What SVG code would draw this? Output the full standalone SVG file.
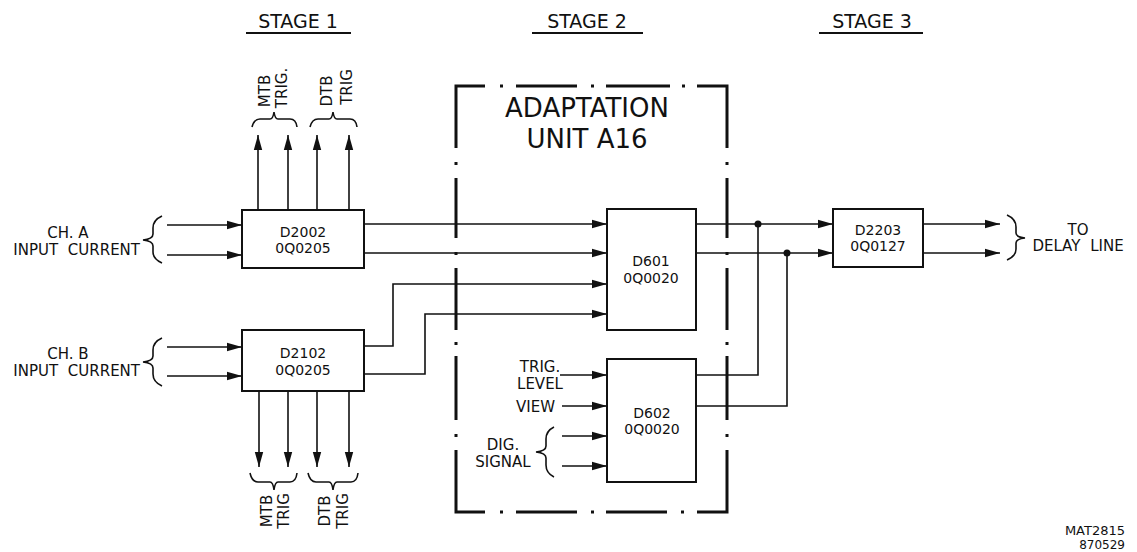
<svg xmlns="http://www.w3.org/2000/svg" width="1137" height="552" viewBox="0 0 1137 552">
<style>
text{font-family:"DejaVu Sans","Liberation Sans",sans-serif;fill:#111}
.st{font-size:19px}
.lb{font-size:15px}
.bx{font-size:14px;text-anchor:middle}
.big{font-size:26px;text-anchor:middle}
.box{fill:#fff;stroke:#111;stroke-width:2}
.ln{fill:none;stroke:#111;stroke-width:1.6}
.br{fill:none;stroke:#111;stroke-width:1.6}
.ul{stroke:#111;stroke-width:2.2}
.dd{stroke:#111;stroke-width:3;fill:none}
</style>
<defs>
<marker id="ah" markerUnits="userSpaceOnUse" markerWidth="16" markerHeight="10" refX="15" refY="5" orient="auto">
<path d="M0,0.8 L15,5 L0,9.2 Z" fill="#111"/>
</marker>
</defs>
<rect width="1137" height="552" fill="#fff"/>

<g id="stage-headers">
<text class="st" x="298" y="28" text-anchor="middle">STAGE 1</text>
<line class="ul" x1="246" y1="33" x2="351" y2="33"/>
<text class="st" x="587" y="28" text-anchor="middle">STAGE 2</text>
<line class="ul" x1="532" y1="33" x2="643" y2="33"/>
<text class="st" x="872" y="28" text-anchor="middle">STAGE 3</text>
<line class="ul" x1="819" y1="33" x2="923" y2="33"/>
</g>

<g id="adaptation-unit">
<path class="dd" d="M456,148 V86 H485 M500,86 h3 M516,86 H577 M591,86 h3 M606,86 H670 M682,86 h3 M697,86 H727 V148
M456,162 v3 M456,178 V238 M456,252 v3 M456,268 V330 M456,342 v3 M456,356 V420 M456,434 v3 M456,450 V512 H485
M727,162 v3 M727,178 V238 M727,252 v3 M727,268 V330 M727,342 v3 M727,356 V420 M727,434 v3 M727,450 V512 H697
M500,512 h3 M516,512 H577 M591,512 h3 M606,512 H667 M681,512 h3"/>
<text class="big" x="587" y="117">ADAPTATION</text>
<text class="big" x="587" y="148">UNIT A16</text>
</g>

<g id="connectors">
<line class="ln" x1="167" y1="225" x2="242" y2="225" marker-end="url(#ah)"/>
<line class="ln" x1="167" y1="255" x2="242" y2="255" marker-end="url(#ah)"/>
<line class="ln" x1="167" y1="347" x2="242" y2="347" marker-end="url(#ah)"/>
<line class="ln" x1="167" y1="376" x2="242" y2="376" marker-end="url(#ah)"/>
<line class="ln" x1="258" y1="210" x2="258" y2="135" marker-end="url(#ah)"/>
<line class="ln" x1="288" y1="210" x2="288" y2="135" marker-end="url(#ah)"/>
<line class="ln" x1="317" y1="210" x2="317" y2="135" marker-end="url(#ah)"/>
<line class="ln" x1="349" y1="210" x2="349" y2="135" marker-end="url(#ah)"/>
<line class="ln" x1="259" y1="391" x2="259" y2="467" marker-end="url(#ah)"/>
<line class="ln" x1="288" y1="391" x2="288" y2="467" marker-end="url(#ah)"/>
<line class="ln" x1="317" y1="391" x2="317" y2="467" marker-end="url(#ah)"/>
<line class="ln" x1="349" y1="391" x2="349" y2="467" marker-end="url(#ah)"/>
<line class="ln" x1="364" y1="224" x2="607" y2="224" marker-end="url(#ah)"/>
<line class="ln" x1="364" y1="253" x2="607" y2="253" marker-end="url(#ah)"/>
<polyline class="ln" points="364,346 393,346 393,284 607,284" marker-end="url(#ah)"/>
<polyline class="ln" points="364,374 425,374 425,314 607,314" marker-end="url(#ah)"/>
<line class="ln" x1="696" y1="224" x2="833" y2="224" marker-end="url(#ah)"/>
<line class="ln" x1="696" y1="253" x2="833" y2="253" marker-end="url(#ah)"/>
<polyline class="ln" points="696,375 758,375 758,224"/>
<polyline class="ln" points="696,406 787,406 787,253"/>
<circle cx="758" cy="224" r="3.5" fill="#111"/>
<circle cx="787" cy="253" r="3.5" fill="#111"/>
<line class="ln" x1="560" y1="375" x2="607" y2="375" marker-end="url(#ah)"/>
<line class="ln" x1="562" y1="406" x2="607" y2="406" marker-end="url(#ah)"/>
<line class="ln" x1="562" y1="436" x2="607" y2="436" marker-end="url(#ah)"/>
<line class="ln" x1="562" y1="466" x2="607" y2="466" marker-end="url(#ah)"/>
<line class="ln" x1="923" y1="224" x2="1000" y2="224" marker-end="url(#ah)"/>
<line class="ln" x1="923" y1="253" x2="1000" y2="253" marker-end="url(#ah)"/>
</g>

<g id="D2002">
<rect class="box" x="242" y="210" width="122" height="58"/>
<text class="bx" x="303" y="237">D2002</text>
<text class="bx" x="303" y="253">0Q0205</text>
</g>
<g id="D2102">
<rect class="box" x="242" y="330" width="122" height="61"/>
<text class="bx" x="303" y="358">D2102</text>
<text class="bx" x="303" y="375">0Q0205</text>
</g>
<g id="D601">
<rect class="box" x="607" y="209" width="89" height="121"/>
<text class="bx" x="651" y="266">D601</text>
<text class="bx" x="651" y="283">0Q0020</text>
</g>
<g id="D602">
<rect class="box" x="607" y="359" width="89" height="123"/>
<text class="bx" x="652" y="418">D602</text>
<text class="bx" x="652" y="434">0Q0020</text>
</g>
<g id="D2203">
<rect class="box" x="833" y="209" width="90" height="58"/>
<text class="bx" x="878" y="235">D2203</text>
<text class="bx" x="878" y="251">0Q0127</text>
</g>

<g id="ch-a-input">
<text class="lb" x="68" y="238" text-anchor="middle">CH. A</text>
<text class="lb" x="140" y="255" text-anchor="end" word-spacing="5">INPUT CURRENT</text>
<path class="br" d="M162,216 Q153,220 153,228 L153,234 Q153,239 143,240 Q153,241 153,246 L153,252 Q153,259 162,263"/>
</g>
<g id="ch-b-input">
<text class="lb" x="68" y="359" text-anchor="middle">CH. B</text>
<text class="lb" x="140" y="376" text-anchor="end" word-spacing="5">INPUT CURRENT</text>
<path class="br" d="M162,338 Q153,342 153,350 L153,356 Q153,361 143,362 Q153,363 153,368 L153,374 Q153,382 162,386"/>
</g>

<g id="top-trig-labels">
<path class="br" d="M252,127 Q254,119 260,119 L270,119 Q273,119 274,112 Q275,119 278,119 L290,119 Q296,119 297,127"/>
<path class="br" d="M310,127 Q312,119 318,119 L329,119 Q332,119 333,112 Q334,119 337,119 L350,119 Q356,119 357,127"/>
<text class="lb" transform="translate(270,91) rotate(-90)" text-anchor="middle">MTB</text>
<text class="lb" transform="translate(287,88) rotate(-90)" text-anchor="middle">TRIG.</text>
<text class="lb" transform="translate(332,91) rotate(-90)" text-anchor="middle">DTB</text>
<text class="lb" transform="translate(352,87) rotate(-90)" text-anchor="middle">TRIG</text>
</g>
<g id="bottom-trig-labels">
<path class="br" d="M250,473 Q252,482 258,482 L270,482 Q273,482 274,490 Q275,482 278,482 L290,482 Q296,482 297,473"/>
<path class="br" d="M308,473 Q310,482 316,482 L329,482 Q332,482 333,490 Q334,482 337,482 L351,482 Q357,482 358,473"/>
<text class="lb" transform="translate(272,511) rotate(-90)" text-anchor="middle">MTB</text>
<text class="lb" transform="translate(289,511) rotate(-90)" text-anchor="middle">TRIG</text>
<text class="lb" transform="translate(330,511) rotate(-90)" text-anchor="middle">DTB</text>
<text class="lb" transform="translate(348,511) rotate(-90)" text-anchor="middle">TRIG</text>
</g>

<g id="d602-inputs">
<text class="lb" x="540" y="372" text-anchor="middle">TRIG.</text>
<text class="lb" x="540" y="389" text-anchor="middle">LEVEL</text>
<text class="lb" x="555" y="412" text-anchor="end">VIEW</text>
<text class="lb" x="503" y="450" text-anchor="middle">DIG.</text>
<text class="lb" x="503" y="467" text-anchor="middle">SIGNAL</text>
<path class="br" d="M554,427 Q546,431 546,439 L546,446 Q546,451 536,452 Q546,453 546,458 L546,465 Q546,473 554,477"/>
</g>

<g id="delay-line-output">
<path class="br" d="M1007,215 Q1016,219 1016,227 L1016,233 Q1016,237 1025,238 Q1016,239 1016,243 L1016,249 Q1016,256 1007,260"/>
<text class="lb" x="1078" y="235" text-anchor="middle">TO</text>
<text class="lb" x="1078" y="251" text-anchor="middle" word-spacing="5">DELAY LINE</text>
</g>

<g id="drawing-ref">
<text x="1125" y="535" text-anchor="end" style="font-size:13px">MAT2815</text>
<text x="1125" y="549" text-anchor="end" style="font-size:12px">870529</text>
</g>
</svg>
